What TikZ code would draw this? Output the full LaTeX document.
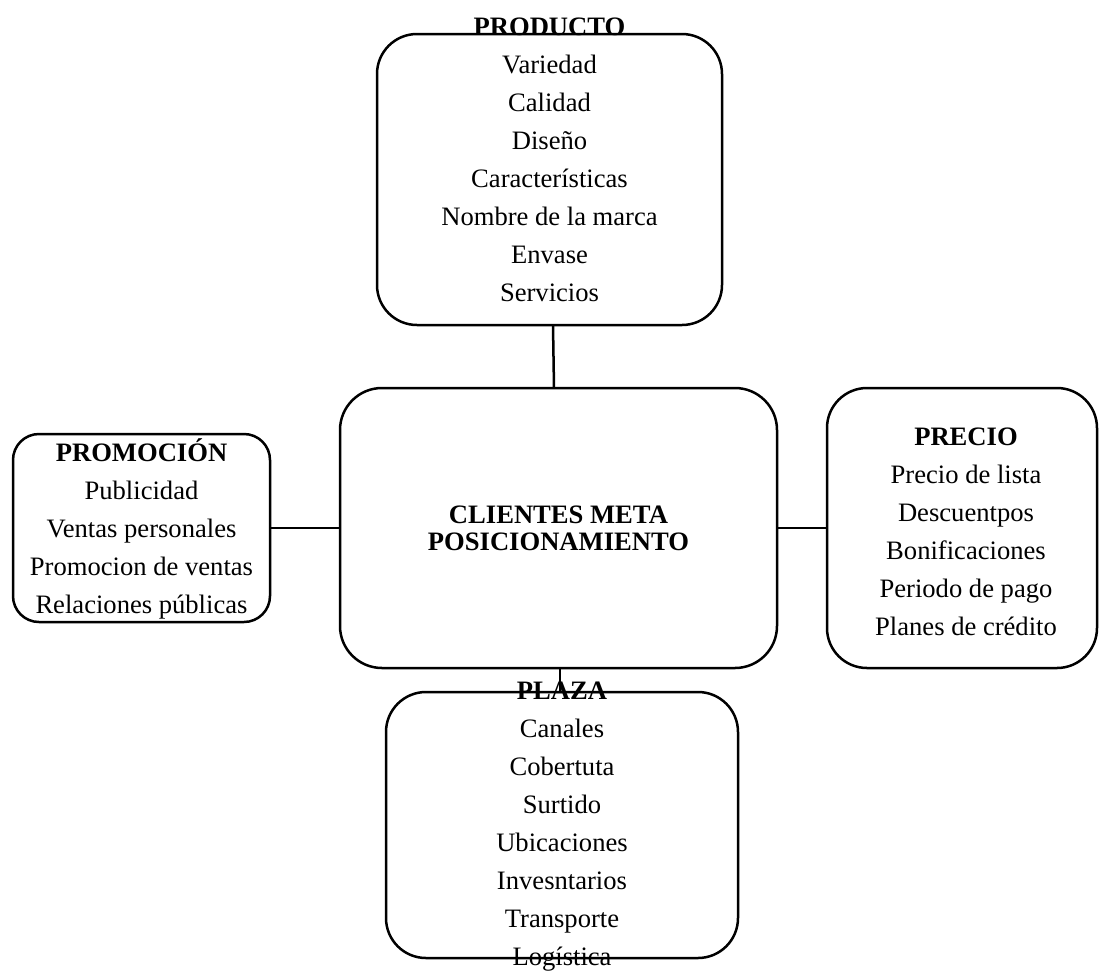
\documentclass[tikz,border=0pt]{standalone}
\usepackage{fontspec}
\setmainfont{Liberation Serif}
\usetikzlibrary{positioning}

\begin{document}
\begin{tikzpicture}[
    x=0.5pt, y=-0.5pt,
    caja/.style={rectangle, rounded corners=20pt, draw=black, line width=1.25pt, inner sep=0pt, outer sep=0pt},
    lista/.style={align=center, inner sep=0pt, font=\fontsize{13.3pt}{19pt}\selectfont},
    centro/.style={align=center, font=\fontsize{13.3pt}{13.5pt}\selectfont\bfseries},
    enlace/.style={line width=1.25pt}
]
\useasboundingbox (0,0) rectangle (1099,971);

% Centro: clientes meta
\node (clientes) [caja, centro, rounded corners=21pt, minimum width=218.5pt, minimum height=140pt] at (558.5,528) {CLIENTES META\\POSICIONAMIENTO};

% Arriba: producto
\node (producto) [caja, minimum width=172.5pt, minimum height=145.5pt, above=31.5pt of clientes, xshift=-4.5pt] {};

% Izquierda: promocion
\node (promocion) [caja, rounded corners=13pt, minimum width=128.5pt, minimum height=94pt, left=35pt of clientes] {};

% Derecha: precio
\node (precio) [caja, minimum width=135pt, minimum height=140pt, right=25pt of clientes] {};

% Abajo: plaza
\node (plaza) [caja, minimum width=176pt, minimum height=133pt, below=12pt of clientes, xshift=1.75pt] {};

% Textos de las cajas
\node (productotexto) [lista, yshift=10pt] at (producto) {\textbf{PRODUCTO}\\Variedad\\Calidad\\Diseño\\Características\\Nombre de la marca\\Envase\\Servicios};
\node (promociontexto) [lista, yshift=-0.5pt] at (promocion) {\textbf{PROMOCIÓN}\\Publicidad\\Ventas personales\\Promocion de ventas\\Relaciones públicas};
\node (preciotexto) [lista, xshift=2pt, yshift=-1.75pt] at (precio) {\textbf{PRECIO}\\Precio de lista\\Descuentpos\\Bonificaciones\\Periodo de pago\\Planes de crédito};
\node (plazatexto) [lista, yshift=-1pt] at (plaza) {\textbf{PLAZA}\\Canales\\Cobertuta\\Surtido\\Ubicaciones\\Invesntarios\\Transporte\\Logística};

% Lineas de union
\draw [enlace] ([xshift=1.75pt]producto.south) -- ([xshift=-2.25pt]clientes.north);
\draw [enlace] (promocion) -- (clientes);
\draw [enlace] (clientes) -- (precio);
\draw [enlace] ([xshift=0.75pt]clientes.south) -- ([xshift=-1pt]plaza.north);

\end{tikzpicture}
\end{document}
